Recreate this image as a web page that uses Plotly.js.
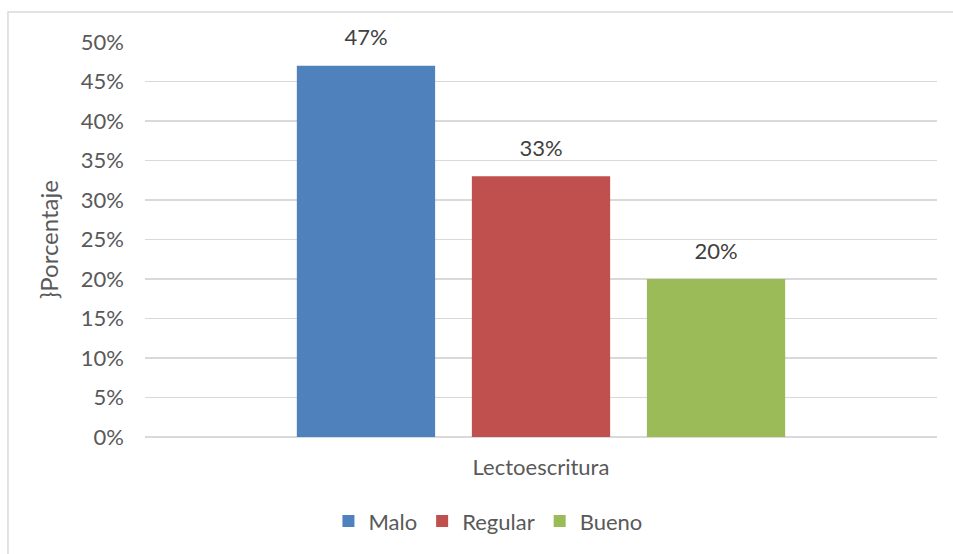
<!DOCTYPE html>
<html>
<head>
<meta charset="utf-8">
<script src="https://cdn.plot.ly/plotly-3.0.1.min.js"></script>
<style>html,body{margin:0;padding:0;background:#fff;}#chart{width:953px;height:554px;}</style>
</head>
<body>
<div id="chart"></div>
<script>
const categories = ['Lectoescritura'];
const seriesNames = ['Malo', 'Regular', 'Bueno'];
const malo = [0.47];
const regular = [0.33];
const bueno = [0.20];
const seriesValues = [malo, regular, bueno];
const seriesColors = ['#4F81BD', '#C0504D', '#9BBB59'];
const yTickVals = [0, 0.05, 0.10, 0.15, 0.20, 0.25, 0.30, 0.35, 0.40, 0.45, 0.50];
const yTickText = ['0%', '5%', '10%', '15%', '20%', '25%', '30%', '35%', '40%', '45%', '50%'];

const FONT = 'Lato, "Noto Sans", sans-serif';
const TXT = '#595959';
const FS = 22;

const traces = [];
seriesNames.forEach((name, i) => {
  traces.push({
    type: 'bar', name: name, x: categories, y: seriesValues[i],
    marker: {color: seriesColors[i]}, hoverinfo: 'none'
  });
});
seriesNames.forEach((name, i) => {
  traces.push({
    type: 'scatter', mode: 'markers+text', x: categories, y: seriesValues[i],
    text: seriesValues[i].map(v => Math.round(v * 100) + '%'),
    textposition: 'top center',
    textfont: {family: FONT, size: FS, color: '#404040'},
    marker: {size: 22, color: 'rgba(0,0,0,0)'},
    showlegend: false, hoverinfo: 'none', cliponaxis: false
  });
});

const layout = {
  width: 953, height: 554,
  margin: {l: 145, r: 16, t: 42, b: 117},
  paper_bgcolor: '#fff', plot_bgcolor: '#fff',
  barmode: 'group', bargap: 0.337, bargroupgap: 0.21,
  scattermode: 'group', scattergap: 0.337,
  showlegend: true,
  font: {family: FONT, size: FS, color: TXT},
  xaxis: {
    type: 'category', showgrid: false, zeroline: false, showline: false,
    ticks: '', ticklabelstandoff: 15,
    tickfont: {family: FONT, size: FS, color: TXT}
  },
  yaxis: {
    range: [0, 0.5], tickvals: yTickVals, ticktext: yTickText,
    showgrid: true, gridcolor: '#d9d9d9', gridwidth: 1.5,
    zeroline: true, zerolinecolor: '#d9d9d9', zerolinewidth: 1.5,
    showline: false, ticks: '', ticklabelstandoff: 20,
    tickfont: {family: FONT, size: FS, color: TXT},
    title: {text: '}Porcentaje', font: {family: FONT, size: 24, color: TXT}, standoff: 15}
  },
  legend: {
    orientation: 'h', x: 0.433, xanchor: 'center', y: -0.213, yanchor: 'middle',
    font: {family: FONT, size: FS, color: TXT}, itemwidth: 30, traceorder: 'normal'
  },
  shapes: [{
    type: 'rect', xref: 'paper', yref: 'paper',
    x0: -0.173, x1: 1.2, y0: 1.076, y1: -0.5,
    line: {color: '#d9d9d9', width: 1.5}, fillcolor: 'rgba(0,0,0,0)', layer: 'below'
  }]
};

Plotly.newPlot('chart', traces, layout, {displayModeBar: false, staticPlot: true});
</script>
</body>
</html>
